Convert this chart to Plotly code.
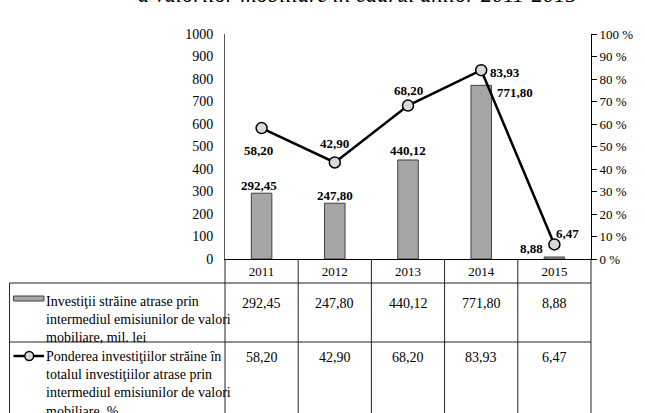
import plotly.graph_objects as go

years = ["2011", "2012", "2013", "2014", "2015"]
invest = [292.45, 247.80, 440.12, 771.80, 8.88]
share = [58.20, 42.90, 68.20, 83.93, 6.47]
row1_label = "Investiţii străine atrase prin<br>intermediul emisiunilor de valori<br>mobiliare, mil. lei"
row2_label = "Ponderea investiţiilor străine în<br>totalul investiţiilor atrase prin<br>intermediul emisiunilor de valori<br>mobiliare, %"
title_text = "a valorilor mobiliare în cadrul anilor 2011-2015"

def fmt(v):
    return f"{v:.2f}".replace(".", ",")

W, H = 645, 413
L, R, T, B = 225, 48, 34, 154
PW, PH = W - L - R, H - T - B
def px(x):
    return (x - L) / PW
def py(y):
    return (H - B - y) / PH

FONT = "Liberation Serif"
BAR_FILL = "#a6a6a6"
BAR_LINE = "#404040"
MK_FILL = "#d9d9d9"

fig = go.Figure()
fig.add_trace(go.Bar(x=years, y=invest, width=0.28, marker=dict(color=BAR_FILL, line=dict(color=BAR_LINE, width=1)),
                     showlegend=False, yaxis="y"))
fig.add_trace(go.Scatter(x=years, y=share, mode="lines+markers", yaxis="y2", showlegend=False,
                         line=dict(color="black", width=2.5),
                         marker=dict(symbol="circle", size=11, color=MK_FILL, line=dict(color="black", width=1.5))))

ann = []
bar_off = [(-3, 8), (0, 8), (0, 9), (34, -7), (-23, 9)]
for i, (v, (dx, dy)) in enumerate(zip(invest, bar_off)):
    ann.append(dict(x=i, y=v, xref="x", yref="y", text=f"<b>{fmt(v)}</b>", showarrow=False,
                    xshift=dx, yshift=dy, font=dict(family=FONT, size=13, color="black")))
line_off = [(-3, -22), (0, 19), (0, 15), (24, -2), (13, 11)]
for i, (v, (dx, dy)) in enumerate(zip(share, line_off)):
    ann.append(dict(x=i, y=v, xref="x", yref="y2", text=f"<b>{fmt(v)}</b>", showarrow=False,
                    xshift=dx, yshift=dy, font=dict(family=FONT, size=13, color="black")))

# table values
for i, v in enumerate(invest):
    ann.append(dict(x=i, y=py(303), xref="x", yref="paper", text=fmt(v), showarrow=False,
                    yanchor="middle", font=dict(family=FONT, size=14, color="black")))
for i, v in enumerate(share):
    ann.append(dict(x=i, y=py(357), xref="x", yref="paper", text=fmt(v), showarrow=False,
                    yanchor="middle", font=dict(family=FONT, size=14, color="black")))

ann.append(dict(x=px(41), y=py(301 + 18), xref="paper", yref="paper", text=row1_label, showarrow=False,
                xanchor="left", yanchor="middle", align="left", font=dict(family=FONT, size=14, color="black")))
ann.append(dict(x=px(41), y=py(357 + 1.5 * 18), xref="paper", yref="paper", text=row2_label, showarrow=False,
                xanchor="left", yanchor="middle", align="left", font=dict(family=FONT, size=14, color="black")))

ann.append(dict(x=px(360), y=py(9), xref="paper", yref="paper", text=f"<i>{title_text}</i>", showarrow=False,
                xanchor="center", yanchor="bottom", font=dict(family=FONT, size=22.5, color="black")))

shapes = []
LC = "#222"
n = len(years)
for i in range(n + 1):
    shapes.append(dict(type="line", xref="paper", yref="paper", x0=i / n, x1=i / n, y0=0, y1=py(H + 5),
                       line=dict(color=LC, width=1)))
shapes.append(dict(type="line", xref="paper", yref="paper", x0=px(6), x1=px(6), y0=py(283), y1=py(H + 5),
                   line=dict(color=LC, width=1)))
for yy in (283, 342):
    shapes.append(dict(type="line", xref="paper", yref="paper", x0=px(6), x1=1, y0=py(yy), y1=py(yy),
                       line=dict(color=LC, width=1)))
# legend keys
shapes.append(dict(type="rect", xref="paper", yref="paper", x0=px(10), x1=px(41), y0=py(301), y1=py(296),
                   fillcolor=BAR_FILL, line=dict(color=BAR_LINE, width=1)))
shapes.append(dict(type="line", xref="paper", yref="paper", x0=px(10), x1=px(41), y0=py(356), y1=py(356),
                   line=dict(color="black", width=2.5)))
shapes.append(dict(type="circle", xref="paper", yref="paper", x0=px(21.5), x1=px(30.5), y0=py(351.5), y1=py(360.5),
                   fillcolor=MK_FILL, line=dict(color="black", width=1.5)))

fig.update_layout(
    width=W, height=H, margin=dict(l=L, r=R, t=T, b=B, pad=0),
    paper_bgcolor="white", plot_bgcolor="white",
    font=dict(family=FONT, color="black"),
    bargap=0.72,
    xaxis=dict(type="category", range=[-0.5, n - 0.5], showline=True, linecolor="black", linewidth=1,
               ticks="", showgrid=False, zeroline=False, tickfont=dict(family=FONT, size=13, color="black")),
    yaxis=dict(range=[0, 1000], dtick=100, showline=True, linecolor="#555", linewidth=1, ticks="",
               showgrid=False, zeroline=False, ticklabelstandoff=8,
               tickfont=dict(family=FONT, size=14, color="black")),
    yaxis2=dict(range=[0, 100], dtick=10, overlaying="y", side="right", ticksuffix=" %", showline=True,
                linecolor="black", linewidth=1, ticks="outside", ticklen=5, tickcolor="black",
                showgrid=False, zeroline=False, tickfont=dict(family=FONT, size=13, color="black")),
    annotations=ann, shapes=shapes,
)
fig.write_html("out.html", config={"displayModeBar": False},
               post_script="document.body.style.margin='0';document.body.style.overflow='hidden';")
